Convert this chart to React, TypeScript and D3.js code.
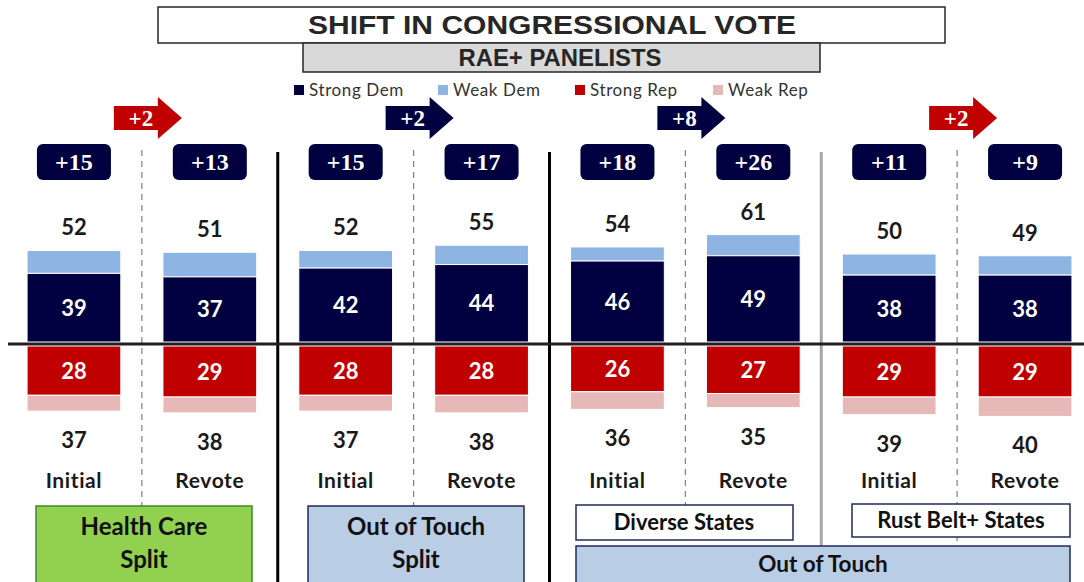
import React from 'react';
import * as d3 from 'd3';

// bar order: initial / revote per panel
const rounds = ['Initial', 'Revote', 'Initial', 'Revote', 'Initial', 'Revote', 'Initial', 'Revote'];
const strongDem = [39, 37, 42, 44, 46, 49, 38, 38];
const demTotal = [52, 51, 52, 55, 54, 61, 50, 49];
const strongRep = [28, 29, 28, 28, 26, 27, 29, 29];
const repTotal = [37, 38, 37, 38, 36, 35, 39, 40];
const netMargin = ['+15', '+13', '+15', '+17', '+18', '+26', '+11', '+9'];
const shiftLabels = ['+2', '+2', '+8', '+2'];
const shiftParty = ['rep', 'dem', 'dem', 'rep'];
const legendLabels = ['Strong Dem', 'Weak Dem', 'Strong Rep', 'Weak Rep'];

const C = {
  strongDem: '#000040',
  weakDem: '#8db4e2',
  strongRep: '#c00000',
  weakRep: '#e6b8b7',
  text: '#1a1a1a',
};
const legendColors = [C.strongDem, C.weakDem, C.strongRep, C.weakRep];

const W = 1084;
const H = 582;
const sans = 'Lato, "Open Sans", sans-serif';
const serif = '"Liberation Serif", "DejaVu Serif", serif';

export default function App() {
  const idx = d3.range(rounds.length);
  const x = d3.scaleBand<number>().domain(idx).range([6, 1093]).paddingInner(0.31).paddingOuter(0.155);
  const bw = x.bandwidth();
  const step = x.step();
  const cx = (i: number) => (x(i) as number) + bw / 2;

  const base = 344;
  const yUp = d3.scaleLinear().domain([0, 100]).range([base - 2, base - 2 - 176]);
  const yDown = d3.scaleLinear().domain([0, 100]).range([base + 2, base + 2 + 176]);

  const pairMid = (p: number) => cx(p * 2) + step / 2;
  const groupSep = (g: number) => cx(g * 2 + 1) + step / 2;

  const arrow = (p: number) => {
    const left = pairMid(p) - 28;
    const cy = 118;
    const bodyW = 44, headW = 24, bodyH = 24, headH = 42;
    const path = d3.path();
    path.moveTo(left, cy - bodyH / 2);
    path.lineTo(left + bodyW, cy - bodyH / 2);
    path.lineTo(left + bodyW, cy - headH / 2);
    path.lineTo(left + bodyW + headW, cy);
    path.lineTo(left + bodyW, cy + headH / 2);
    path.lineTo(left + bodyW, cy + bodyH / 2);
    path.lineTo(left, cy + bodyH / 2);
    path.closePath();
    return path.toString();
  };

  const legendX = [294, 438, 575, 713];
  const boxText = { fontFamily: sans, fontWeight: 'bold', fill: '#111', textAnchor: 'middle' } as const;

  return (
    <div style={{ position: 'absolute', left: 0, top: 0 }}>
      <svg width={W} height={H} style={{ display: 'block', background: '#fff' }}>
        {/* title */}
        <rect x={158} y={7} width={787} height={36} fill="#fff" stroke="#262626" strokeWidth={1.5} />
        <text x={552} y={34} textAnchor="middle" fontFamily='"Liberation Sans", Arial, sans-serif' fontWeight="bold"
          fontSize={26} fill="#262626" textLength={488} lengthAdjust="spacingAndGlyphs">SHIFT IN CONGRESSIONAL VOTE</text>
        <rect x={303} y={43} width={517} height={29} fill="#d9d9d9" stroke="#262626" strokeWidth={1.5} />
        <text x={560} y={66} textAnchor="middle" fontFamily='"Liberation Sans", Arial, sans-serif' fontWeight="bold"
          fontSize={24} fill="#262626" textLength={203} lengthAdjust="spacingAndGlyphs">RAE+ PANELISTS</text>

        {/* legend */}
        {legendLabels.map((l, i) => (
          <g key={l}>
            <rect x={legendX[i]} y={85} width={10} height={10} fill={legendColors[i]} />
            <text x={legendX[i] + 15} y={96} fontFamily={sans} fontSize={17} letterSpacing={0.6}
              fill="#333">{l}</text>
          </g>
        ))}

        {/* dashed pair dividers */}
        {[0, 1, 2, 3].map(p => (
          <line key={'d' + p} x1={pairMid(p)} x2={pairMid(p)} y1={150} y2={582}
            stroke="#7f7f7f" strokeWidth={1.2} strokeDasharray="6,5" />
        ))}
        {/* group separators */}
        {[0, 1, 2].map(g => (
          <line key={'s' + g} x1={groupSep(g)} x2={groupSep(g)} y1={152} y2={582}
            stroke={g === 2 ? '#a6a6a6' : '#000'} strokeWidth={3} />
        ))}

        {/* shift arrows */}
        {shiftLabels.map((s, p) => (
          <g key={'a' + p}>
            <path d={arrow(p)} fill={shiftParty[p] === 'rep' ? C.strongRep : C.strongDem} />
            <text x={pairMid(p) - 1} y={126} textAnchor="middle" fontFamily={serif} fontWeight="bold"
              fontSize={23} fill="#fff">{s}</text>
          </g>
        ))}

        {/* net badges */}
        {idx.map(i => (
          <g key={'n' + i}>
            <rect x={cx(i) - 37} y={144} width={74} height={36} rx={6} fill={C.strongDem} />
            <text x={cx(i)} y={170} textAnchor="middle" fontFamily={serif} fontWeight="bold" fontSize={24}
              fill="#fff">{netMargin[i]}</text>
          </g>
        ))}

        {/* bars */}
        {idx.map(i => {
          const x0 = x(i) as number;
          return (
            <g key={'b' + i}>
              <rect x={x0} y={yUp(demTotal[i])} width={bw} height={yUp(strongDem[i]) - yUp(demTotal[i])}
                fill={C.weakDem} stroke="#fff" strokeWidth={1} />
              <rect x={x0} y={yUp(strongDem[i])} width={bw} height={yUp(0) - yUp(strongDem[i])}
                fill={C.strongDem} stroke="#fff" strokeWidth={1} />
              <rect x={x0} y={yDown(0)} width={bw} height={yDown(strongRep[i]) - yDown(0)}
                fill={C.strongRep} stroke="#fff" strokeWidth={1} />
              <rect x={x0} y={yDown(strongRep[i])} width={bw} height={yDown(repTotal[i]) - yDown(strongRep[i])}
                fill={C.weakRep} stroke="#fff" strokeWidth={1} />
              <text x={cx(i)} y={(yUp(0) + yUp(strongDem[i])) / 2 + 8} textAnchor="middle" fontFamily={sans}
                fontWeight="bold" fontSize={22} fill="#fff">{strongDem[i]}</text>
              <text x={cx(i)} y={(yDown(0) + yDown(strongRep[i])) / 2 + 8} textAnchor="middle" fontFamily={sans}
                fontWeight="bold" fontSize={22} fill="#fff">{strongRep[i]}</text>
              <text x={cx(i)} y={yUp(demTotal[i]) - 15} textAnchor="middle" fontFamily={sans}
                fontWeight="bold" fontSize={22} fill={C.text}>{demTotal[i]}</text>
              <text x={cx(i)} y={yDown(repTotal[i]) + 37} textAnchor="middle" fontFamily={sans}
                fontWeight="bold" fontSize={22} fill={C.text}>{repTotal[i]}</text>
              <text x={cx(i)} y={488} textAnchor="middle" fontFamily={sans}
                fontWeight="bold" fontSize={21} letterSpacing={0.6} fill={C.text}>{rounds[i]}</text>
            </g>
          );
        })}

        {/* zero line */}
        <line x1={8} x2={W} y1={base} y2={base} stroke="#231f1a" strokeWidth={3} />

        {/* panel boxes */}
        <rect x={36} y={506} width={216} height={90} fill="#92d050" stroke="#3c8a2e" strokeWidth={1.5} />
        <text x={144} y={535} fontSize={24} {...boxText}>Health Care</text>
        <text x={144} y={568} fontSize={24} {...boxText}>Split</text>

        <rect x={308} y={506} width={216} height={90} fill="#b9cde5" stroke="#1f2a5c" strokeWidth={1.5} />
        <text x={416} y={535} fontSize={24} {...boxText}>Out of Touch</text>
        <text x={416} y={568} fontSize={24} {...boxText}>Split</text>

        <rect x={576} y={505} width={217} height={35} fill="#fff" stroke="#1f2a5c" strokeWidth={1.5} />
        <text x={684} y={530} fontSize={22} {...boxText}>Diverse States</text>

        <rect x={852} y={504} width={218} height={33} fill="#fff" stroke="#1f2a5c" strokeWidth={1.5} />
        <text x={961} y={528} fontSize={22} {...boxText}>Rust Belt+ States</text>

        <rect x={576} y={546} width={494} height={50} fill="#b9cde5" stroke="#1f2a5c" strokeWidth={1.5} />
        <text x={823} y={572} fontSize={22.5} {...boxText}>Out of Touch</text>
      </svg>
    </div>
  );
}
